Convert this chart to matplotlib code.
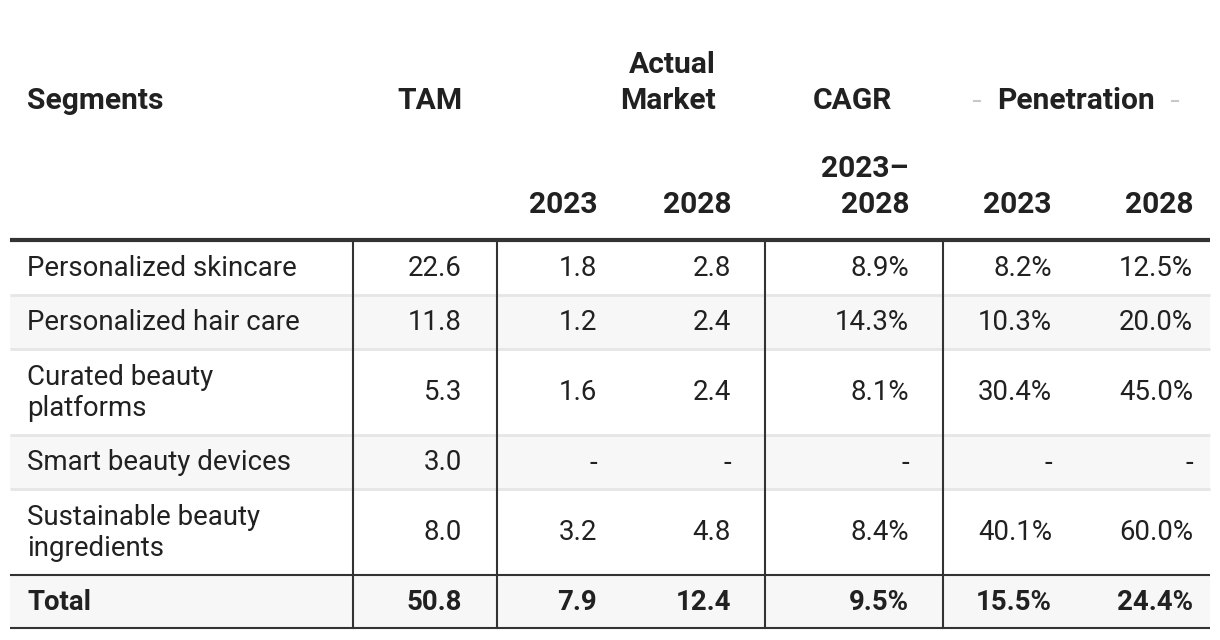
import matplotlib
matplotlib.use("Agg")
import matplotlib.pyplot as plt
from matplotlib.patches import Rectangle

plt.rcParams['font.family'] = ['Roboto', 'DejaVu Sans']

segments = ["Personalized skincare", "Personalized hair care", "Curated beauty\nplatforms",
            "Smart beauty devices", "Sustainable beauty\ningredients"]
tam = [22.6, 11.8, 5.3, 3.0, 8.0]
market_2023 = [1.8, 1.2, 1.6, None, 3.2]
market_2028 = [2.8, 2.4, 2.4, None, 4.8]
cagr = [8.9, 14.3, 8.1, None, 8.4]
pen_2023 = [8.2, 10.3, 30.4, None, 40.1]
pen_2028 = [12.5, 20.0, 45.0, None, 60.0]
total_label = "Total"
total_values = [50.8, 7.9, 12.4, 9.5, 15.5, 24.4]

W, H = 1220, 640
fig = plt.figure(figsize=(W / 100, H / 100), dpi=100)
ax = fig.add_axes([0, 0, 1, 1])
ax.set_xlim(0, W)
ax.set_ylim(H, 0)
ax.axis('off')

TXT = '#212121'
LINE = '#333333'
FS = 19.9
HFS = 21.6
x0, x1 = 10, 1210
label_x = 27
col_right = [462, 597, 731, 909, 1052, 1193]
vlines = [353, 497, 765, 943]

row_bounds = [241, 295, 349, 435, 489, 575, 628]

def fmt_num(v):
    return '-' if v is None else f"{v:.1f}"

def fmt_pct(v):
    return '-' if v is None else f"{v:.1f}%"

# backgrounds
for i in range(len(segments) + 1):
    top, bot = row_bounds[i], row_bounds[i + 1]
    if i % 2 == 1 or i == len(segments):
        ax.add_patch(Rectangle((x0, top), x1 - x0, bot - top, color='#f7f7f7', lw=0, zorder=0))
    if 0 < i < len(segments):
        ax.plot([x0, x1], [top, top], color='#e6e6e6', lw=2, zorder=1, solid_capstyle='butt')

# header
hdr = dict(fontsize=HFS, fontweight='bold', color=TXT, va='center')
ax.text(label_x, 101, "Segments", ha='left', **hdr)
ax.text(col_right[0], 101, "TAM", ha='right', **hdr)
ax.text(716, 83, "Actual\nMarket", ha='right', linespacing=1.34, **hdr)
ax.text(892, 101, "CAGR", ha='right', **hdr)
ax.text(1076, 101, "Penetration", ha='center', **hdr)
ax.plot([974, 980], [101, 101], color='#c8c8c8', lw=1.5)
ax.plot([1172, 1178], [101, 101], color='#c8c8c8', lw=1.5)
ax.text(col_right[1], 205, "2023", ha='right', **hdr)
ax.text(col_right[2], 205, "2028", ha='right', **hdr)
ax.text(col_right[3], 187, "2023–\n2028", ha='right', linespacing=1.34, **hdr)
ax.text(col_right[4], 205, "2023", ha='right', **hdr)
ax.text(col_right[5], 205, "2028", ha='right', **hdr)

# body
body = dict(fontsize=FS, color=TXT, va='center')
for i, seg in enumerate(segments):
    yc = (row_bounds[i] + row_bounds[i + 1]) / 2 + 1
    ax.text(label_x, yc, seg, ha='left', linespacing=1.22, **body)
    vals = [fmt_num(tam[i]), fmt_num(market_2023[i]), fmt_num(market_2028[i]),
            fmt_pct(cagr[i]), fmt_pct(pen_2023[i]), fmt_pct(pen_2028[i])]
    for xr, s in zip(col_right, vals):
        ax.text(xr, yc, s, ha='right', **body)

# total row
yc = (row_bounds[-2] + row_bounds[-1]) / 2 + 1
ax.text(label_x, yc, total_label, ha='left', fontweight='bold', **body)
tv = [fmt_num(total_values[0]), fmt_num(total_values[1]), fmt_num(total_values[2]),
      fmt_pct(total_values[3]), fmt_pct(total_values[4]), fmt_pct(total_values[5])]
for xr, s in zip(col_right, tv):
    ax.text(xr, yc, s, ha='right', fontweight='bold', **body)

# rules
ax.plot([x0, x1], [240, 240], color=LINE, lw=3, solid_capstyle='butt', zorder=3)
ax.plot([x0, x1], [575, 575], color=LINE, lw=1.5, solid_capstyle='butt', zorder=3)
ax.plot([x0, x1], [628, 628], color=LINE, lw=1.5, solid_capstyle='butt', zorder=3)
for vx in vlines:
    ax.plot([vx, vx], [241, 628], color=LINE, lw=1.5, zorder=3)

fig.savefig("out.png", dpi=100, facecolor='white')
